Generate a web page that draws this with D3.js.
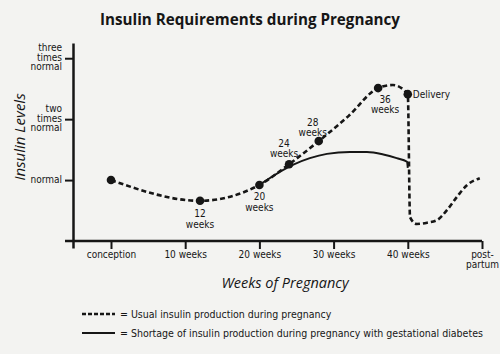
<!DOCTYPE html>
<html><head><meta charset="utf-8">
<script src="https://cdn.jsdelivr.net/npm/d3@7"></script>
<style>
html,body{margin:0;padding:0;background:#f3f3f1;}
svg{display:block;}
</style></head>
<body>
<div id="chart"></div>
<script>
// ---- data ----
const xTickValues = [0, 10, 20, 30, 40, 50];
const xTickLabels = [["conception"], ["10 weeks"], ["20 weeks"], ["30 weeks"], ["40 weeks"], ["post-", "partum"]];
const yTickValues = [1, 2, 3];
const yTickLabels = [["normal"], ["two", "times", "normal"], ["three", "times", "normal"]];

// usual insulin production (dashed) : [weeks, level (x normal)]
const usualWeeks  = [0, 12, 20, 24, 28, 32, 36, 38, 40, 40.3, 41.2, 42.6, 43.9, 45.3, 46.6, 48.0, 49.7];
const usualLevels = [1.0, 0.66, 0.92, 1.26, 1.64, 2.05, 2.51, 2.56, 2.41, 0.39, 0.28, 0.30, 0.34, 0.51, 0.72, 0.92, 1.03];

// shortage with gestational diabetes (solid)
const shortWeeks  = [20, 24.5, 26.8, 29.1, 32.2, 34.5, 36.7, 38.5, 39.9, 40.0];
const shortLevels = [0.92, 1.25, 1.36, 1.43, 1.46, 1.46, 1.42, 1.36, 1.30, 1.20];

// labelled points
const markWeeks  = [0, 12, 20, 24, 28, 36, 40];
const markLevels = [1.0, 0.66, 0.92, 1.26, 1.64, 2.51, 2.41];
const markLabels = [[], ["12", "weeks"], ["20", "weeks"], ["24", "weeks"], ["28", "weeks"], ["36", "weeks"], ["Delivery"]];

const title = "Insulin Requirements during Pregnancy";
const xTitle = "Weeks of Pregnancy";
const yTitle = "Insulin Levels";
const legendLabels = ["= Usual insulin production during pregnancy",
  "= Shortage of insulin production during pregnancy with gestational diabetes"];

// ---- chart ----
const W = 500, H = 354;
const FONT = "'Liberation Sans Narrow','DejaVu Sans Condensed','Liberation Sans',sans-serif";
const INK = "#161616";
const svg = d3.select("#chart").append("svg").attr("width", W).attr("height", H)
  .style("font-family", FONT);

function fitWidth(t, target) {
  const w = t.node().getComputedTextLength();
  const fs = parseFloat(t.attr("font-size"));
  t.attr("font-size", (fs * target / w).toFixed(2));
}

const x = d3.scaleLinear().domain([-5.12, 50]).range([73, 482]);
const y = d3.scaleLinear().domain([-0.115, 3.25]).range([248, 43]);
const x0 = x(-5.12), yAxisPos = y(0);

// title
const tt = svg.append("text").attr("x", 250).attr("y", 25).attr("text-anchor", "middle")
  .attr("font-family", "'Open Sans','Lato',sans-serif").attr("font-weight", "bold")
  .attr("font-size", 18).attr("fill", INK).text(title);
fitWidth(tt, 300);

// x axis
const xAxis = svg.append("g").attr("transform", `translate(0,${yAxisPos})`)
  .call(d3.axisBottom(x).tickValues(xTickValues).tickSize(8).tickSizeOuter(0).tickFormat(""));
xAxis.select(".domain").attr("stroke", INK).attr("stroke-width", 2.5)
  .attr("d", `M${x0 - 8},0H${x(50)}`);
xAxis.selectAll(".tick line").attr("stroke", INK).attr("stroke-width", 2);
xAxis.selectAll(".tick").each(function(d, i) {
  const t = d3.select(this).append("text").attr("fill", INK).attr("font-size", 10)
    .attr("text-anchor", "middle").attr("font-family", FONT);
  xTickLabels[i].forEach((s, j) => t.append("tspan").attr("x", 0).attr("y", 17 + j * 10).text(s));
});

// y axis
const yAxis = svg.append("g").attr("transform", `translate(${x0},0)`)
  .call(d3.axisLeft(y).tickValues(yTickValues).tickSize(8).tickSizeOuter(0).tickFormat(""));
yAxis.select(".domain").attr("stroke", INK).attr("stroke-width", 2.5);
yAxis.selectAll(".tick line").attr("stroke", INK).attr("stroke-width", 2);
yAxis.selectAll(".tick").each(function(d, i) {
  const lines = yTickLabels[i];
  const t = d3.select(this).append("text").attr("fill", INK).attr("font-size", 10)
    .attr("text-anchor", "end").attr("font-family", FONT);
  const n = lines.length;
  lines.forEach((s, j) => t.append("tspan").attr("x", -11)
    .attr("y", (j - (n - 1) / 2) * 9.6 + 2).text(s));
});

// axis titles
svg.append("text").attr("x", 285).attr("y", 288).attr("text-anchor", "middle")
  .attr("font-family", "'Open Sans','Lato',sans-serif").attr("font-style", "italic")
  .attr("font-size", 14.5).attr("fill", INK).text(xTitle);
svg.append("text").attr("transform", "translate(25,137) rotate(-90)").attr("text-anchor", "middle")
  .attr("font-family", "'Open Sans','Lato',sans-serif").attr("font-style", "italic")
  .attr("font-size", 15).attr("fill", INK).text(yTitle);

// lines
const line = d3.line().x(d => x(d[0])).y(d => y(d[1])).curve(d3.curveMonotoneX);
const usual = usualWeeks.map((w, i) => [w, usualLevels[i]]);
const shortage = shortWeeks.map((w, i) => [w, shortLevels[i]]);

svg.append("path").attr("d", line(shortage)).attr("fill", "none")
  .attr("stroke", INK).attr("stroke-width", 2);
svg.append("path").attr("d", line(usual)).attr("fill", "none")
  .attr("stroke", INK).attr("stroke-width", 2.6).attr("stroke-dasharray", "5,3");

// markers + labels
const labelDx = [0, 0, 0, -5, -6, 7, 5];
const labelDy = [0, 13, 12, -21, -19, 11, 0];
markWeeks.forEach((w, i) => {
  const cx = x(w), cy = y(markLevels[i]);
  svg.append("circle").attr("cx", cx).attr("cy", cy).attr("r", 4.3).attr("fill", INK);
  const lab = markLabels[i];
  if (!lab.length) return;
  const t = svg.append("text").attr("fill", INK).attr("font-size", 10);
  if (lab.length === 1) {
    t.attr("x", cx + 5).attr("y", cy + 3.5).attr("text-anchor", "start").text(lab[0]);
  } else {
    t.attr("text-anchor", "middle");
    lab.forEach((s, j) => t.append("tspan").attr("x", cx + labelDx[i])
      .attr("y", cy + labelDy[i] + 3.5 + j * 10.5).text(s));
  }
});

// legend
const lg = svg.append("g");
lg.append("line").attr("x1", 82).attr("x2", 115).attr("y1", 314).attr("y2", 314)
  .attr("stroke", INK).attr("stroke-width", 2.5).attr("stroke-dasharray", "4,2");
lg.append("line").attr("x1", 82).attr("x2", 115).attr("y1", 333).attr("y2", 333)
  .attr("stroke", INK).attr("stroke-width", 2.2);
const l1 = lg.append("text").attr("x", 120).attr("y", 318).attr("font-size", 11.5).attr("fill", INK)
  .attr("font-family", FONT).text(legendLabels[0]);
const l2 = lg.append("text").attr("x", 120).attr("y", 337).attr("font-size", 11.5).attr("fill", INK)
  .attr("font-family", FONT).text(legendLabels[1]);
fitWidth(l2, 363);
l1.attr("font-size", l2.attr("font-size"));
</script>
</body></html>
